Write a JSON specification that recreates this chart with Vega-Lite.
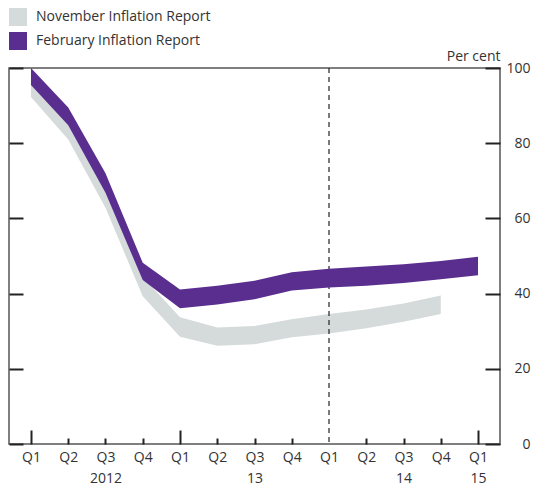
{
  "$schema": "https://vega.github.io/schema/vega-lite/v6.json",
  "width": 491,
  "height": 376,
  "autosize": {"type": "none"},
  "padding": {"left": 9, "top": 68, "right": 33, "bottom": 46},
  "background": "white",
  "config": {
    "view": {"stroke": "#555", "strokeWidth": 1.5},
    "font": "Open Sans",
    "axis": {"domain": false, "grid": false, "labelFont": "Open Sans", "labelFontSize": 14, "labelColor": "#333", "tickColor": "#222", "tickWidth": 2, "titleFont": "Open Sans"},
    "legend": {"orient": "none", "legendX": 0, "legendY": -60, "title": null, "symbolType": "square", "symbolSize": 324, "symbolStrokeWidth": 0, "labelFont": "Open Sans", "labelFontSize": 14, "labelColor": "#333", "labelOffset": 9, "labelLimit": 0, "rowPadding": 6, "padding": 0}
  },
  "datasets": {
    "bands": [
      {"report": "November Inflation Report", "t": 0, "lo": 92.3, "hi": 96.7},
      {"report": "November Inflation Report", "t": 1, "lo": 81.0, "hi": 85.5},
      {"report": "November Inflation Report", "t": 2, "lo": 62.8, "hi": 67.3},
      {"report": "November Inflation Report", "t": 3, "lo": 39.3, "hi": 44.5},
      {"report": "November Inflation Report", "t": 4, "lo": 28.5, "hi": 33.7},
      {"report": "November Inflation Report", "t": 5, "lo": 26.1, "hi": 31.0},
      {"report": "November Inflation Report", "t": 6, "lo": 26.5, "hi": 31.4},
      {"report": "November Inflation Report", "t": 7, "lo": 28.4, "hi": 33.2},
      {"report": "November Inflation Report", "t": 8, "lo": 29.4, "hi": 34.6},
      {"report": "November Inflation Report", "t": 9, "lo": 30.8, "hi": 35.8},
      {"report": "November Inflation Report", "t": 10, "lo": 32.5, "hi": 37.4},
      {"report": "November Inflation Report", "t": 11, "lo": 34.6, "hi": 39.5},
      {"report": "February Inflation Report", "t": 0, "lo": 95.5, "hi": 100},
      {"report": "February Inflation Report", "t": 1, "lo": 84.8, "hi": 89.5},
      {"report": "February Inflation Report", "t": 2, "lo": 66.8, "hi": 72.0},
      {"report": "February Inflation Report", "t": 3, "lo": 43.6, "hi": 48.2},
      {"report": "February Inflation Report", "t": 4, "lo": 36.1, "hi": 41.1},
      {"report": "February Inflation Report", "t": 5, "lo": 37.1, "hi": 42.1},
      {"report": "February Inflation Report", "t": 6, "lo": 38.5, "hi": 43.4},
      {"report": "February Inflation Report", "t": 7, "lo": 40.8, "hi": 45.7},
      {"report": "February Inflation Report", "t": 8, "lo": 41.6, "hi": 46.6},
      {"report": "February Inflation Report", "t": 9, "lo": 42.1, "hi": 47.2},
      {"report": "February Inflation Report", "t": 10, "lo": 42.8, "hi": 47.8},
      {"report": "February Inflation Report", "t": 11, "lo": 43.8, "hi": 48.7},
      {"report": "February Inflation Report", "t": 12, "lo": 44.9, "hi": 49.8}
    ],
    "marker": [{"t": 8}]
  },
  "encoding": {
    "x": {
      "field": "t",
      "type": "quantitative",
      "scale": {"domain": [-0.59, 12.59], "nice": false, "zero": false},
      "axis": {
        "orient": "bottom",
        "title": null,
        "values": [0, 1, 2, 3, 4, 5, 6, 7, 8, 9, 10, 11, 12],
        "tickSize": {"condition": [{"test": "datum.value == 8", "value": 0}, {"test": "datum.value % 4 == 0", "value": -14}], "value": -6},
        "labelPadding": {"condition": [{"test": "datum.value == 8", "value": 6}, {"test": "datum.value % 4 == 0", "value": 20}], "value": 12},
        "labelExpr": "datum.value == 2 ? ['Q3', '2012'] : datum.value == 6 ? ['Q3', '13'] : datum.value == 10 ? ['Q3', '14'] : datum.value == 12 ? ['Q1', '15'] : 'Q' + (datum.value % 4 + 1)",
        "labelLineHeight": 21,
        "labelBaseline": "top",
        "labelFlush": false,
        "labelOverlap": false
      }
    }
  },
  "layer": [
    {
      "data": {"name": "bands"},
      "transform": [{"filter": "datum.report == 'November Inflation Report'"}],
      "mark": {"type": "area", "interpolate": "linear"},
      "encoding": {
        "y": {"field": "hi", "type": "quantitative", "scale": {"domain": [0, 100], "nice": false}, "axis": {"orient": "left", "labels": false, "tickSize": -14, "values": [0, 20, 40, 60, 80, 100], "title": null}},
        "y2": {"field": "lo"},
        "color": {"field": "report", "type": "nominal", "scale": {"domain": ["November Inflation Report", "February Inflation Report"], "range": ["#d5dadb", "#5a2e8f"]}}
      }
    },
    {
      "data": {"name": "marker"},
      "mark": {"type": "rule", "strokeDash": [5, 4], "color": "#222", "strokeWidth": 1.2},
      "encoding": {}
    },
    {
      "data": {"name": "bands"},
      "transform": [{"filter": "datum.report == 'February Inflation Report'"}],
      "mark": {"type": "area", "interpolate": "linear"},
      "encoding": {
        "y": {"field": "hi", "type": "quantitative", "scale": {"domain": [0, 100], "nice": false}, "axis": {"orient": "right", "tickSize": -15, "values": [0, 20, 40, 60, 80, 100], "labelAlign": "right", "labelPadding": 45, "labelBaseline": "middle", "title": "Per cent", "titleAngle": 0, "titleAlign": "right", "titleBaseline": "alphabetic", "titleX": 0, "titleY": -8, "titleFontWeight": "normal", "titleFontSize": 14, "titleColor": "#333"}},
        "y2": {"field": "lo"},
        "color": {"field": "report", "type": "nominal", "scale": {"domain": ["November Inflation Report", "February Inflation Report"], "range": ["#d5dadb", "#5a2e8f"]}}
      }
    }
  ],
  "resolve": {"axis": {"y": "independent"}}
}
